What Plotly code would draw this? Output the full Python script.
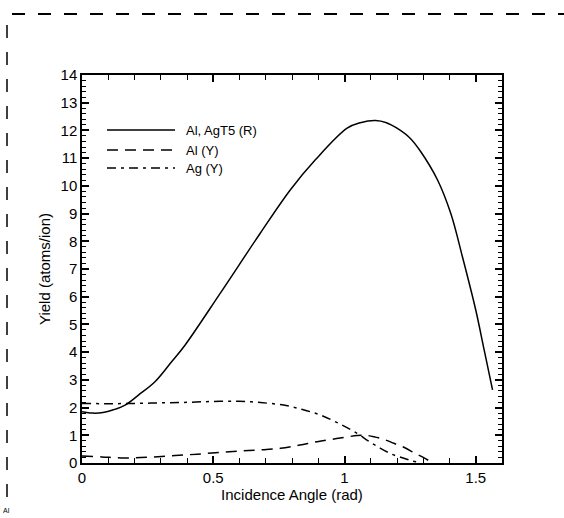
import plotly.graph_objects as go

# Al, AgT5 (R) - solid
r_x = [0.0, 0.04, 0.08, 0.12, 0.164, 0.215, 0.279, 0.342, 0.393, 0.527, 0.679,
       0.794, 0.889, 1.01, 1.06, 1.118, 1.16, 1.20, 1.25, 1.29, 1.354, 1.405, 1.449,
       1.50, 1.532, 1.564]
r_y = [1.85, 1.80, 1.82, 1.92, 2.09, 2.45, 2.94, 3.66, 4.26, 6.13, 8.29,
       9.86, 10.94, 12.08, 12.28, 12.36, 12.28, 12.08, 11.72, 11.24, 10.22, 9.0, 7.45,
       5.52, 4.08, 2.64]

# Al (Y) - dashed
al_x = [0.0, 0.075, 0.164, 0.26, 0.355, 0.44, 0.52, 0.6, 0.673, 0.756, 0.83, 0.896, 0.97,
        1.048, 1.08, 1.112, 1.15, 1.188, 1.23, 1.265, 1.30, 1.328]
al_y = [0.25, 0.22, 0.18, 0.21, 0.27, 0.32, 0.38, 0.43, 0.47, 0.53, 0.65, 0.77, 0.88,
        0.99, 1.0, 0.95, 0.85, 0.71, 0.55, 0.37, 0.2, 0.05]

# Ag (Y) - dash-dot
ag_x = [0.0, 0.1, 0.2, 0.3, 0.4, 0.5, 0.597, 0.68, 0.768, 0.84, 0.908, 0.98, 1.048,
        1.09, 1.137, 1.18, 1.226, 1.26, 1.29]
ag_y = [2.15, 2.14, 2.15, 2.17, 2.19, 2.22, 2.23, 2.18, 2.09, 1.93, 1.73, 1.42, 1.07,
        0.8, 0.53, 0.32, 0.17, 0.07, 0.01]

x_ticks = [0, 0.5, 1, 1.5]
x_tick_labels = ["0", "0.5", "1", "1.5"]
y_ticks = list(range(0, 15))

legend_names = ["Al, AgT5 (R)", "Al (Y)", "Ag (Y)"]
legend_dashes = ["solid", "11px,7px", "9px,5px,3px,5px"]

FONT = "Liberation Sans, Arial, sans-serif"

fig = go.Figure()
for xs, ys, name, dash in [(r_x, r_y, legend_names[0], legend_dashes[0]),
                           (al_x, al_y, legend_names[1], legend_dashes[1]),
                           (ag_x, ag_y, legend_names[2], legend_dashes[2])]:
    fig.add_trace(go.Scatter(x=xs, y=ys, mode="lines", name=name, line_shape="spline",
                             line=dict(color="black", width=1.5, dash=dash),
                             showlegend=False))

L, R, T, B = 82, 62, 75, 55
W, H = 564, 518
pw, ph = W - L - R, H - T - B

def px(xp):
    return (xp - L) / pw

def py(yp):
    return (H - B - yp) / ph

shapes = []
annotations = []
# manual legend
leg_y = [130, 150, 168]
for i, (name, dash) in enumerate(zip(legend_names, legend_dashes)):
    shapes.append(dict(type="line", xref="paper", yref="paper",
                       x0=px(107), x1=px(175), y0=py(leg_y[i]), y1=py(leg_y[i]),
                       line=dict(color="black", width=1.5, dash=dash)))
    annotations.append(dict(xref="paper", yref="paper", x=px(184), y=py(leg_y[i]),
                            text=name, showarrow=False, xanchor="left", yanchor="middle",
                            font=dict(family=FONT, size=13, color="black")))

# scanned dashed border
shapes.append(dict(type="line", xref="paper", yref="paper",
                   x0=px(12), x1=px(564), y0=py(14), y1=py(14),
                   line=dict(color="black", width=2, dash="13px,13px")))
shapes.append(dict(type="line", xref="paper", yref="paper",
                   x0=px(7), x1=px(7), y0=py(25), y1=py(505),
                   line=dict(color="black", width=1.5, dash="13px,14px")))
annotations.append(dict(xref="paper", yref="paper", x=px(1), y=py(510), text="Al",
                        showarrow=False, xanchor="left", yanchor="middle",
                        font=dict(family=FONT, size=7, color="black")))

axis_common = dict(showline=True, linecolor="black", linewidth=1.5, mirror="ticks",
                   ticks="inside", tickcolor="black", tickwidth=1.5, ticklen=7,
                   showgrid=False, zeroline=False,
                   tickfont=dict(family=FONT, size=15, color="black"))

fig.update_layout(
    width=W, height=H,
    margin=dict(l=L, r=R, t=T, b=B),
    paper_bgcolor="white", plot_bgcolor="white",
    xaxis=dict(range=[0, 1.6], tickvals=x_ticks, ticktext=x_tick_labels,
               minor=dict(ticks="inside", dtick=0.1, tick0=0, ticklen=5, tickcolor="black", tickwidth=1),
               title=dict(text="Incidence Angle (rad)", standoff=4,
                          font=dict(family=FONT, size=15, color="black")),
               **axis_common),
    yaxis=dict(range=[0, 14], tickvals=y_ticks,
               minor=dict(ticks="inside", dtick=0.2, tick0=0, ticklen=4, tickcolor="black", tickwidth=1),
               title=dict(text="Yield (atoms/ion)", standoff=6,
                          font=dict(family=FONT, size=15, color="black")),
               **axis_common),
    shapes=shapes, annotations=annotations,
    showlegend=False,
)

fig.write_html("out.html", config={"displayModeBar": False},
               post_script="document.body.style.margin='0';")
